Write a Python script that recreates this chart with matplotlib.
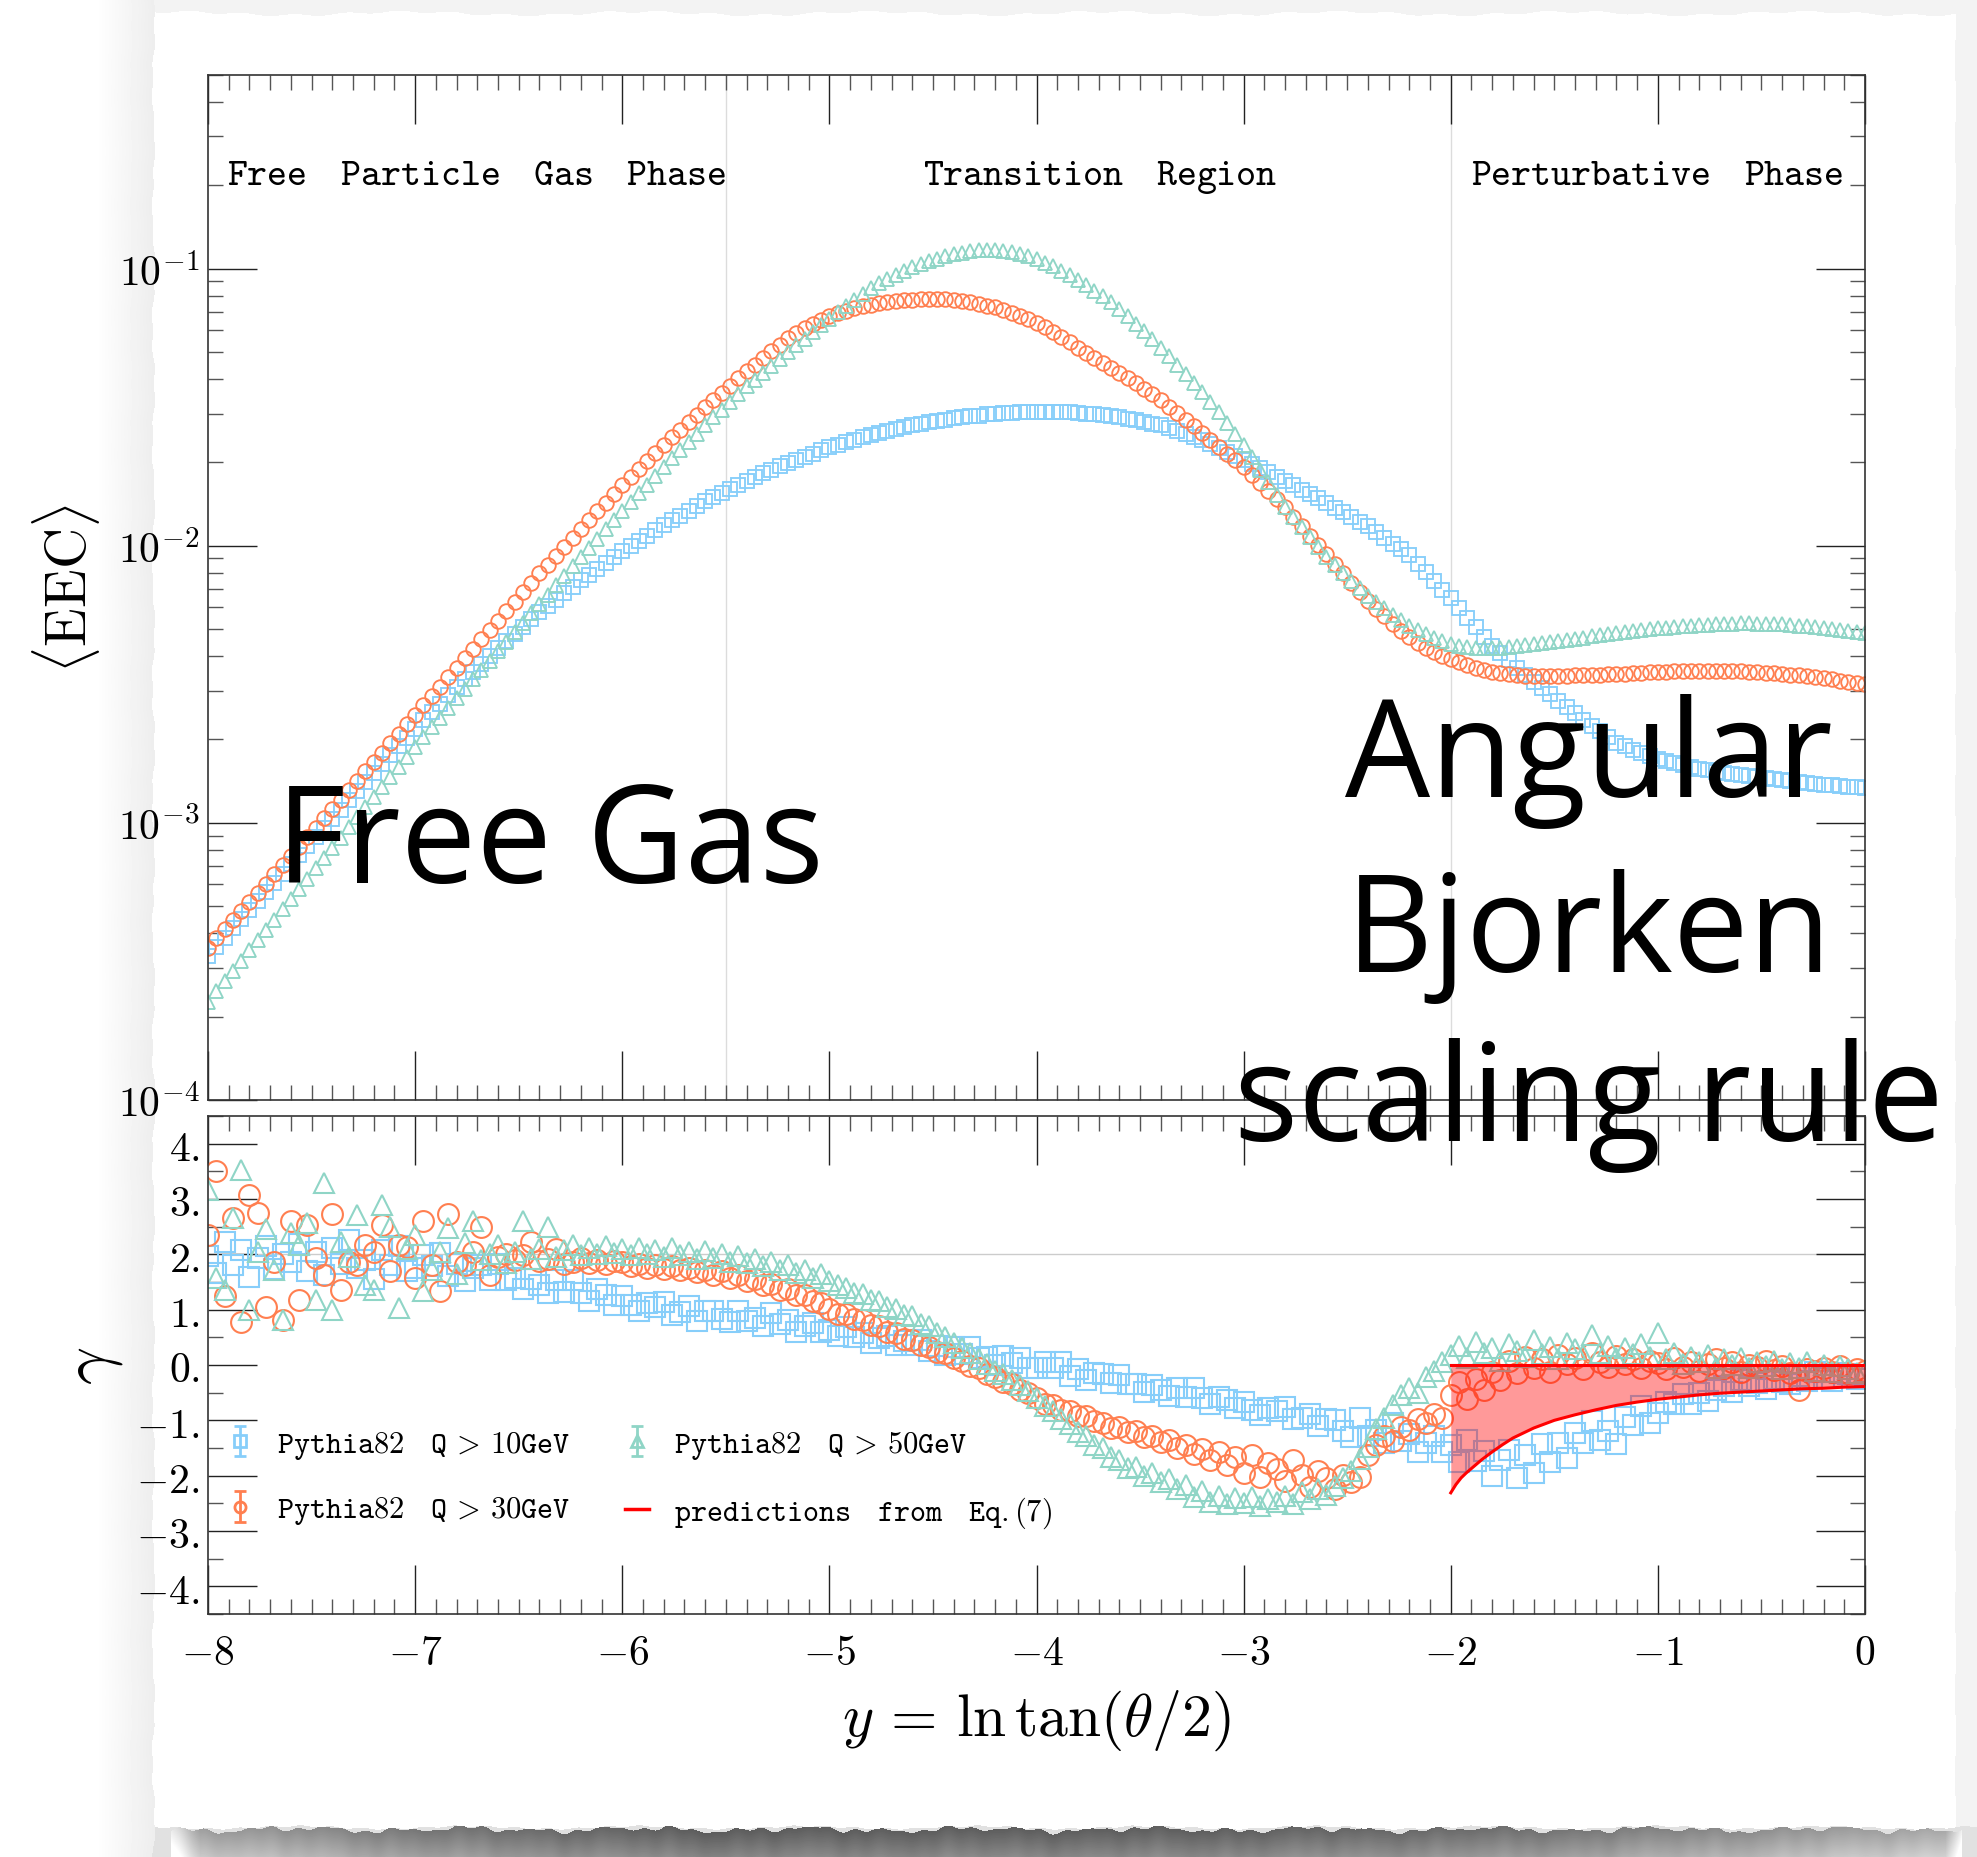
import numpy as np
import matplotlib
matplotlib.use("Agg")
import matplotlib.pyplot as plt
from matplotlib.ticker import MultipleLocator, LogLocator, FuncFormatter, NullFormatter
from matplotlib.lines import Line2D

plt.rcParams['mathtext.fontset'] = 'cm'
plt.rcParams['axes.unicode_minus'] = True

# ---------------------------------------------------------------- data
# bin centres in y = ln tan(theta/2)
y_centres = np.round(np.linspace(-8.0, 0.0, 201), 2)

# log10 <EEC> per bin
log_eec_q10 = [
    -3.480, -3.447, -3.414, -3.381, -3.348, -3.315, -3.282, -3.249, -3.216, -3.183, -3.150, -3.117, -3.084, -3.051, -3.018, -2.985, -2.952, -2.919, -2.886, -2.853, -2.820, -2.788, -2.756, -2.724, -2.692,
    -2.660, -2.630, -2.600, -2.570, -2.540, -2.510, -2.482, -2.454, -2.426, -2.398, -2.370, -2.344, -2.318, -2.292, -2.266, -2.240, -2.217, -2.194, -2.171, -2.148, -2.125, -2.104, -2.083, -2.062, -2.041,
    -2.020, -2.001, -1.982, -1.963, -1.944, -1.925, -1.908, -1.891, -1.874, -1.857, -1.840, -1.825, -1.810, -1.795, -1.780, -1.765, -1.752, -1.739, -1.726, -1.713, -1.700, -1.689, -1.678, -1.667, -1.656,
    -1.645, -1.636, -1.627, -1.618, -1.609, -1.600, -1.593, -1.586, -1.579, -1.572, -1.565, -1.560, -1.555, -1.550, -1.545, -1.540, -1.537, -1.533, -1.530, -1.526, -1.523, -1.522, -1.520, -1.519, -1.518,
    -1.517, -1.517, -1.518, -1.518, -1.519, -1.520, -1.523, -1.526, -1.529, -1.532, -1.535, -1.541, -1.547, -1.553, -1.559, -1.565, -1.576, -1.587, -1.598, -1.609, -1.620, -1.634, -1.648, -1.662, -1.676,
    -1.690, -1.705, -1.720, -1.735, -1.750, -1.765, -1.781, -1.797, -1.813, -1.829, -1.845, -1.862, -1.879, -1.896, -1.913, -1.930, -1.950, -1.971, -1.992, -2.013, -2.035, -2.064, -2.095, -2.126, -2.158,
    -2.190, -2.225, -2.260, -2.294, -2.328, -2.360, -2.387, -2.413, -2.440, -2.465, -2.490, -2.513, -2.536, -2.559, -2.582, -2.605, -2.627, -2.649, -2.670, -2.690, -2.710, -2.724, -2.737, -2.749, -2.760,
    -2.770, -2.778, -2.785, -2.792, -2.799, -2.805, -2.810, -2.815, -2.819, -2.824, -2.828, -2.832, -2.835, -2.839, -2.842, -2.846, -2.849, -2.852, -2.856, -2.859, -2.862, -2.865, -2.867, -2.870, -2.872,
    -2.875]

log_eec_q30 = [
    -3.450, -3.417, -3.384, -3.351, -3.318, -3.285, -3.252, -3.219, -3.186, -3.153, -3.120, -3.086, -3.052, -3.018, -2.984, -2.950, -2.916, -2.882, -2.848, -2.814, -2.780, -2.746, -2.712, -2.678, -2.644,
    -2.610, -2.576, -2.542, -2.508, -2.474, -2.440, -2.406, -2.372, -2.338, -2.304, -2.270, -2.236, -2.202, -2.168, -2.134, -2.100, -2.068, -2.036, -2.004, -1.972, -1.940, -1.908, -1.876, -1.844, -1.812,
    -1.780, -1.751, -1.722, -1.693, -1.664, -1.635, -1.608, -1.581, -1.554, -1.527, -1.500, -1.474, -1.448, -1.422, -1.396, -1.370, -1.346, -1.322, -1.298, -1.274, -1.250, -1.232, -1.215, -1.199, -1.184,
    -1.170, -1.160, -1.151, -1.143, -1.136, -1.130, -1.125, -1.120, -1.117, -1.114, -1.112, -1.110, -1.109, -1.109, -1.110, -1.112, -1.116, -1.121, -1.127, -1.133, -1.140, -1.149, -1.159, -1.170, -1.182,
    -1.195, -1.212, -1.230, -1.248, -1.266, -1.285, -1.303, -1.321, -1.339, -1.357, -1.375, -1.394, -1.414, -1.434, -1.454, -1.475, -1.498, -1.521, -1.545, -1.568, -1.592, -1.617, -1.642, -1.667, -1.692,
    -1.717, -1.745, -1.774, -1.802, -1.831, -1.860, -1.895, -1.929, -1.963, -1.997, -2.030, -2.065, -2.099, -2.133, -2.167, -2.200, -2.228, -2.255, -2.281, -2.306, -2.330, -2.350, -2.368, -2.384, -2.398,
    -2.410, -2.421, -2.431, -2.440, -2.448, -2.455, -2.460, -2.464, -2.467, -2.469, -2.470, -2.470, -2.470, -2.469, -2.469, -2.468, -2.467, -2.466, -2.465, -2.463, -2.462, -2.461, -2.459, -2.458, -2.456,
    -2.455, -2.454, -2.453, -2.452, -2.452, -2.451, -2.451, -2.451, -2.452, -2.452, -2.453, -2.455, -2.457, -2.458, -2.460, -2.462, -2.465, -2.468, -2.471, -2.475, -2.478, -2.482, -2.487, -2.491, -2.496,
    -2.500]

log_eec_q50 = [
    -3.645, -3.608, -3.571, -3.534, -3.497, -3.460, -3.423, -3.386, -3.349, -3.312, -3.275, -3.238, -3.201, -3.164, -3.127, -3.090, -3.053, -3.016, -2.979, -2.942, -2.905, -2.869, -2.833, -2.797, -2.761,
    -2.725, -2.690, -2.655, -2.620, -2.585, -2.550, -2.516, -2.482, -2.448, -2.414, -2.380, -2.346, -2.312, -2.278, -2.244, -2.210, -2.176, -2.142, -2.108, -2.074, -2.040, -2.007, -1.974, -1.941, -1.908,
    -1.875, -1.843, -1.811, -1.779, -1.747, -1.715, -1.685, -1.655, -1.625, -1.595, -1.565, -1.537, -1.509, -1.481, -1.453, -1.425, -1.400, -1.375, -1.350, -1.325, -1.300, -1.276, -1.252, -1.228, -1.204,
    -1.180, -1.157, -1.135, -1.113, -1.091, -1.070, -1.053, -1.037, -1.022, -1.008, -0.995, -0.984, -0.974, -0.964, -0.956, -0.948, -0.942, -0.937, -0.934, -0.932, -0.932, -0.935, -0.940, -0.947, -0.955,
    -0.965, -0.978, -0.992, -1.007, -1.023, -1.040, -1.059, -1.079, -1.100, -1.122, -1.145, -1.171, -1.198, -1.226, -1.255, -1.285, -1.316, -1.348, -1.380, -1.412, -1.445, -1.482, -1.519, -1.557, -1.596,
    -1.635, -1.680, -1.725, -1.770, -1.815, -1.860, -1.897, -1.933, -1.969, -2.005, -2.040, -2.069, -2.098, -2.126, -2.153, -2.180, -2.203, -2.226, -2.248, -2.269, -2.290, -2.305, -2.319, -2.332, -2.344,
    -2.355, -2.361, -2.366, -2.369, -2.370, -2.370, -2.368, -2.365, -2.362, -2.358, -2.355, -2.351, -2.347, -2.343, -2.339, -2.335, -2.331, -2.327, -2.323, -2.319, -2.315, -2.311, -2.308, -2.304, -2.301,
    -2.298, -2.296, -2.293, -2.291, -2.289, -2.287, -2.285, -2.284, -2.282, -2.281, -2.280, -2.280, -2.281, -2.281, -2.282, -2.283, -2.285, -2.288, -2.290, -2.293, -2.295, -2.299, -2.303, -2.307, -2.311,
    -2.315]

# local scaling exponent gamma per bin
gamma_q10 = [
    1.97, 1.66, 2.22, 1.80, 2.08, 1.59, 1.94, 2.15, 1.73, 2.01, 1.87, 2.18, 1.69, 2.04, 1.62, 2.11, 1.83, 2.25, 1.76, 1.90, 1.55, 2.08, 1.80, 2.15, 1.69,
    1.75, 1.98, 1.79, 2.02, 1.60, 1.83, 1.51, 1.76, 1.81, 1.53, 1.82, 1.53, 1.58, 1.38, 1.55, 1.45, 1.31, 1.53, 1.32, 1.53, 1.30, 1.16, 1.37, 1.27, 1.09,
    1.24, 1.09, 0.97, 1.12, 1.05, 1.14, 0.91, 0.96, 1.06, 0.80, 0.97, 0.98, 0.83, 0.77, 0.98, 0.80, 0.85, 0.71, 0.94, 0.74, 0.81, 0.60, 0.70, 0.76, 0.59,
    0.64, 0.52, 0.68, 0.51, 0.58, 0.39, 0.49, 0.53, 0.37, 0.44, 0.37, 0.45, 0.26, 0.35, 0.18, 0.32, 0.20, 0.32, 0.12, 0.15, 0.00, 0.16, 0.03, 0.13, -0.05,
    -0.05, 0.06, -0.06, 0.05, -0.19, -0.08, -0.27, -0.15, -0.16, -0.32, -0.18, -0.34, -0.34, -0.48, -0.37, -0.45, -0.56, -0.41, -0.57, -0.42, -0.59, -0.70, -0.57, -0.64, -0.78,
    -0.67, -0.81, -0.90, -0.78, -0.84, -0.76, -0.98, -0.95, -0.88, -1.11, -0.98, -1.00, -1.19, -1.31, -0.96, -1.28, -1.18, -1.41, -1.04, -1.37, -1.25, -1.58, -1.41, -1.29, -1.57,
    -1.44, -1.75, -1.35, -1.73, -1.56, -2.00, -1.71, -1.53, -2.05, -1.63, -1.95, -1.42, -1.75, -1.41, -1.68, -1.23, -1.41, -1.02, -1.36, -1.20, -1.43, -0.94, -1.09, -0.74, -1.04,
    -0.86, -0.67, -0.71, -0.52, -0.70, -0.51, -0.65, -0.45, -0.38, -0.48, -0.27, -0.38, -0.33, -0.43, -0.26, -0.30, -0.35, -0.19, -0.29, -0.12, -0.23, -0.29, -0.14, -0.16, -0.25,
    -0.18]

gamma_q30 = [
    2.35, 3.50, 1.25, 2.65, 0.78, 3.08, 2.75, 1.05, 1.87, 0.82, 2.60, 1.18, 2.53, 1.93, 1.63, 2.72, 1.36, 1.87, 1.81, 2.17, 2.05, 2.53, 1.69, 2.17, 2.14,
    1.57, 2.60, 1.81, 1.33, 2.72, 1.87, 1.81, 2.05, 2.50, 1.63, 1.95, 2.00, 1.90, 1.98, 2.23, 1.88, 1.92, 2.10, 1.82, 1.86, 1.94, 1.84, 1.90, 1.83, 1.88,
    1.86, 1.78, 1.83, 1.76, 1.81, 1.74, 1.79, 1.71, 1.76, 1.68, 1.72, 1.63, 1.69, 1.58, 1.62, 1.52, 1.55, 1.44, 1.47, 1.36, 1.38, 1.26, 1.27, 1.15, 1.12,
    1.02, 0.93, 0.92, 0.84, 0.82, 0.72, 0.70, 0.60, 0.58, 0.47, 0.46, 0.36, 0.33, 0.24, 0.22, 0.13, 0.08, -0.02, -0.06, -0.16, -0.21, -0.30, -0.35, -0.45, -0.50,
    -0.60, -0.70, -0.72, -0.81, -0.84, -0.92, -0.93, -1.02, -1.04, -1.13, -1.12, -1.22, -1.20, -1.31, -1.28, -1.39, -1.36, -1.50, -1.44, -1.60, -1.52, -1.71, -1.58, -1.80, -1.66,
    -1.95, -1.62, -2.02, -1.78, -1.88, -2.10, -1.72, -1.98, -2.20, -1.92, -2.05, -2.25, -1.98, -2.12, -2.02, -1.62, -1.45, -1.28, -1.38, -1.12, -1.18, -0.98, -1.05, -0.88, -0.95,
    -0.55, -0.30, -0.62, -0.25, -0.45, -0.12, -0.28, 0.08, -0.15, 0.15, -0.05, 0.10, -0.12, 0.18, 0.02, 0.12, -0.08, 0.22, 0.05, -0.04, 0.16, 0.02, 0.10, -0.06, 0.08,
    0.04, -0.08, 0.12, -0.03, 0.06, -0.10, 0.02, 0.10, -0.06, 0.05, -0.12, 0.00, -0.04, 0.08, -0.09, -0.02, -0.14, -0.45, -0.08, -0.10, -0.05, -0.12, -0.02, -0.15, -0.07,
    -0.10]

gamma_q50 = [
    3.17, 1.57, 1.36, 2.65, 3.53, 1.00, 2.05, 2.45, 1.72, 0.81, 2.38, 2.17, 2.56, 1.18, 3.29, 1.00, 2.23, 1.95, 2.71, 1.45, 1.36, 2.90, 2.50, 1.03, 2.10,
    2.35, 1.33, 1.72, 2.05, 2.47, 1.65, 2.20, 2.60, 1.90, 2.00, 2.17, 1.85, 2.05, 2.60, 1.92, 2.10, 2.50, 1.95, 2.08, 2.17, 1.98, 2.12, 2.00, 2.15, 2.02,
    2.10, 1.98, 2.12, 2.00, 2.08, 1.95, 2.12, 1.98, 2.04, 1.92, 2.06, 1.93, 2.00, 1.86, 1.97, 1.84, 1.92, 1.78, 1.86, 1.72, 1.80, 1.66, 1.72, 1.58, 1.64,
    1.52, 1.44, 1.40, 1.30, 1.28, 1.18, 1.15, 1.04, 1.02, 0.90, 0.88, 0.74, 0.70, 0.57, 0.50, 0.40, 0.30, 0.22, 0.10, 0.02, -0.10, -0.17, -0.28, -0.36, -0.47,
    -0.60, -0.75, -0.84, -0.98, -1.06, -1.22, -1.28, -1.45, -1.50, -1.66, -1.72, -1.86, -1.85, -2.00, -1.96, -2.12, -2.06, -2.25, -2.16, -2.38, -2.28, -2.48, -2.36, -2.52, -2.40,
    -2.50, -2.38, -2.55, -2.42, -2.48, -2.36, -2.52, -2.30, -2.42, -2.25, -2.35, -2.18, -2.05, -1.92, -1.70, -1.48, -1.15, -0.95, -0.72, -0.55, -0.42, -0.50, -0.22, -0.10, 0.05,
    0.18, 0.35, 0.12, 0.42, 0.22, 0.30, 0.08, 0.38, 0.25, 0.15, 0.45, 0.20, 0.32, 0.10, 0.40, 0.28, 0.18, 0.55, 0.22, 0.35, 0.12, 0.30, 0.20, 0.38, 0.15,
    0.58, 0.10, 0.22, 0.02, 0.15, 0.05, 0.18, -0.05, 0.10, 0.00, 0.12, -0.06, 0.06, -0.02, 0.08, -0.08, 0.03, -0.05, 0.06, -0.10, 0.00, -0.12, -0.02, -0.08, -0.15,
    -0.12]

# prediction band from Eq.(7) in the perturbative region
pred_y = [-2.0, -1.975, -1.95, -1.925, -1.9, -1.85, -1.8, -1.75, -1.7, -1.6, -1.5, -1.4, -1.3,
          -1.2, -1.1, -1.0, -0.9, -0.8, -0.7, -0.6, -0.5, -0.4, -0.3, -0.2, -0.1, 0.0]
pred_lower = [-2.31, -2.16, -2.04, -1.95, -1.87, -1.71, -1.57, -1.44, -1.32, -1.14, -1.00, -0.90, -0.81,
              -0.73, -0.67, -0.62, -0.58, -0.54, -0.51, -0.49, -0.47, -0.45, -0.43, -0.42, -0.40, -0.39]
pred_upper = [0.0, 0.0, 0.0, 0.0, 0.0, 0.0, 0.0, 0.0, 0.0, 0.0, 0.0, 0.0, 0.0,
              0.0, 0.0, 0.0, 0.0, 0.0, 0.0, 0.0, 0.0, 0.0, 0.0, 0.0, 0.0, 0.0]

phase_boundaries = [-5.5, -2.0]
series_labels = [r'$\mathtt{Pythia82}\quad\mathtt{Q}\,>\,\mathtt{10GeV}$',
                 r'$\mathtt{Pythia82}\quad\mathtt{Q}\,>\,\mathtt{30GeV}$',
                 r'$\mathtt{Pythia82}\quad\mathtt{Q}\,>\,\mathtt{50GeV}$',
                 r'$\mathtt{predictions}\quad\mathtt{from}\quad\mathtt{Eq.}(7)$']

C10, C30, C50, CRED = '#87CEFA', '#FF7F50', '#8FD5C6', '#FF0000'

# ---------------------------------------------------------------- figure
W_PX, H_PX = 1977, 1858
fig = plt.figure(figsize=(W_PX / 100, H_PX / 100), dpi=100)
fig.patch.set_facecolor('white')

# paper sheet backdrop with a soft shadow
rows, cols = np.mgrid[0:H_PX, 0:W_PX].astype(float)
edge_left = 153 + 1.2 * np.sin(rows / 19.0) + 0.8 * np.sin(rows / 5.7)
edge_top = 14 + 1.8 * np.sin(cols / 37.0) + 1.1 * np.sin(cols / 8.3 + 0.7)
edge_right = 1955 + 0.8 * np.sin(rows / 13.0)
edge_bottom = 1828 + 1.4 * np.sin(cols / 27.0) + 0.8 * np.sin(cols / 4.9)
sheet = (cols >= edge_left) & (cols <= edge_right) & (rows >= edge_top) & (rows <= edge_bottom)

canvas = np.ones((H_PX, W_PX))
canvas = np.where(cols < edge_left,
                  1.0 - 0.07 * np.clip((cols - 95) / (edge_left - 95), 0, 1), canvas)
canvas = np.where((rows < edge_top) & (cols >= edge_left), 0.95, canvas)
canvas = np.where(cols > edge_right, 0.955, canvas)
tone = np.interp(cols, [170, 200, 420, 700, 1200, 1500, 1750, 1945, 1962],
                 [0.93, 0.62, 0.46, 0.36, 0.37, 0.43, 0.55, 0.66, 0.95])
strip_top = edge_bottom + 2 + 1.8 * np.sin(cols / 11.0) + 1.2 * np.sin(cols / 3.7)
strip = (rows > strip_top) & (cols > 170) & (cols < 1962)
canvas = np.where((rows > edge_bottom) & ~strip & (cols >= edge_left), 0.88, canvas)
canvas = np.where(strip, np.clip(tone + 0.006 * (rows - strip_top), 0, 1), canvas)
canvas = np.where(sheet, 1.0, canvas)

bg = fig.add_axes([0, 0, 1, 1], zorder=-10)
bg.imshow(canvas, cmap='gray', vmin=0, vmax=1, extent=(0, W_PX, H_PX, 0),
          aspect='auto', interpolation='bilinear')
bg.set_xlim(0, W_PX)
bg.set_ylim(H_PX, 0)
bg.axis('off')

ax1 = fig.add_axes([0.10521, 0.40743, 0.83814, 0.55167])
ax2 = fig.add_axes([0.10521, 0.13079, 0.83814, 0.26803])

# ---------------------------------------------------------------- top panel
for vals, col, mk in ((log_eec_q10, C10, 's'), (log_eec_q30, C30, 'o'), (log_eec_q50, C50, '^')):
    ax1.plot(y_centres, np.power(10.0, vals), ls='none', marker=mk, ms=10.5,
             mfc='none', mec=col, mew=1.35)
for xb in phase_boundaries:
    ax1.axvline(xb, color='#dcdcdc', lw=1.0, zorder=0.5)

ax1.set_yscale('log')
ax1.set_ylim(1e-4, 0.5)
ax1.yaxis.set_major_locator(LogLocator(base=10, numticks=10))
ax1.yaxis.set_minor_locator(LogLocator(base=10, subs=np.arange(2, 10), numticks=40))
ax1.yaxis.set_major_formatter(FuncFormatter(lambda v, p: r'$10^{%d}$' % round(np.log10(v))))
ax1.yaxis.set_minor_formatter(NullFormatter())
ax1.tick_params(labelbottom=False)

region_kw = dict(transform=ax1.get_xaxis_transform(), fontsize=27.4, va='baseline', ha='left')
ax1.text(-7.91, 0.894, r'$\mathtt{Free\quad Particle\quad Gas\quad Phase}$', **region_kw)
ax1.text(-4.55, 0.894, r'$\mathtt{Transition\quad Region}$', **region_kw)
ax1.text(-1.90, 0.894, r'$\mathtt{Perturbative\quad Phase}$', **region_kw)

ax1.set_ylabel(r'$\langle\mathrm{EEC}\rangle$', fontsize=41)
ax1.yaxis.set_label_coords(-0.0857, 0.5)
ax1.yaxis.label.set_va('center')

# ---------------------------------------------------------------- bottom panel
for vals, col, mk in ((gamma_q10, C10, 's'), (gamma_q30, C30, 'o'), (gamma_q50, C50, '^')):
    ax2.plot(y_centres, vals, ls='none', marker=mk, ms=15, mfc='none',
             mec=col, mew=1.5)
ax2.axhline(2.0, color='#cccccc', lw=1.0, zorder=0.5)
ax2.fill_between(pred_y, pred_lower, pred_upper, color=CRED, alpha=0.4, lw=0, zorder=5)
ax2.plot(pred_y, pred_lower, color=CRED, lw=2.2, zorder=6)
ax2.plot(pred_y, pred_upper, color=CRED, lw=2.2, zorder=6)

ax2.set_ylim(-4.5, 4.5)
ax2.yaxis.set_major_locator(MultipleLocator(1))
ax2.yaxis.set_minor_locator(MultipleLocator(0.5))
ax2.yaxis.set_major_formatter(FuncFormatter(lambda v, p: r'$%d.$' % round(v)))
ax2.xaxis.set_major_formatter(FuncFormatter(lambda v, p: r'$%d$' % round(v)))

ax2.set_xlabel(r'$y\,=\,\ln\tan(\theta/2)$', fontsize=43)
ax2.xaxis.set_label_coords(0.5, -0.213)
ax2.xaxis.label.set_va('center')
ax2.set_ylabel(r'$\gamma$', fontsize=48)
ax2.yaxis.set_label_coords(-0.070, 0.5)
ax2.yaxis.label.set_va('center')

# legend with error-bar style markers
handles = []
for col, mk in ((C10, 's'), (C30, 'o'), (C50, '^')):
    h = ax2.errorbar([np.nan], [np.nan], yerr=[1.0], fmt=mk,
                     ms=8, mfc='none', mec=col, mew=2.0, ecolor=col, elinewidth=2.0,
                     capsize=4, capthick=2.0)
    handles.append(h)
handles.append(Line2D([], [], color=CRED, lw=2.5))
ax2.legend(handles, series_labels, ncol=2,
           loc='upper left', bbox_to_anchor=(0.012, 0.372), frameon=False, fontsize=22,
           handlelength=0.8, handletextpad=0.8, columnspacing=1.8, labelspacing=1.1,
           borderpad=0, borderaxespad=0)

# ---------------------------------------------------------------- shared styling
for ax in (ax1, ax2):
    ax.set_xlim(-8, 0)
    ax.set_facecolor('white')
    ax.xaxis.set_major_locator(MultipleLocator(1))
    ax.xaxis.set_minor_locator(MultipleLocator(0.1))
    ax.tick_params(which='both', direction='in', top=True, right=True)
    ax.tick_params(which='major', length=35, width=1.0, color='#222222', labelsize=30)
    ax.tick_params(which='minor', length=11, width=1.0, color='#555555')
    ax.tick_params(axis='y', pad=6)
    ax.tick_params(axis='x', pad=12)
    for s in ax.spines.values():
        s.set_linewidth(1.2)
        s.set_color('#333333')

# ---------------------------------------------------------------- annotations
big = dict(fontsize=97, family='Open Sans', color='black',
           ha='center', va='baseline', zorder=20)
fig.text(550 / W_PX, 1 - 883 / H_PX, 'Free Gas', **big)
fig.text(1589 / W_PX, 1 - 797 / H_PX, 'Angular', **big)
fig.text(1589 / W_PX, 1 - 972 / H_PX, 'Bjorken', **big)
fig.text(1589 / W_PX, 1 - 1141 / H_PX, 'scaling rule', **big)

fig.savefig('out.png', dpi=100)
